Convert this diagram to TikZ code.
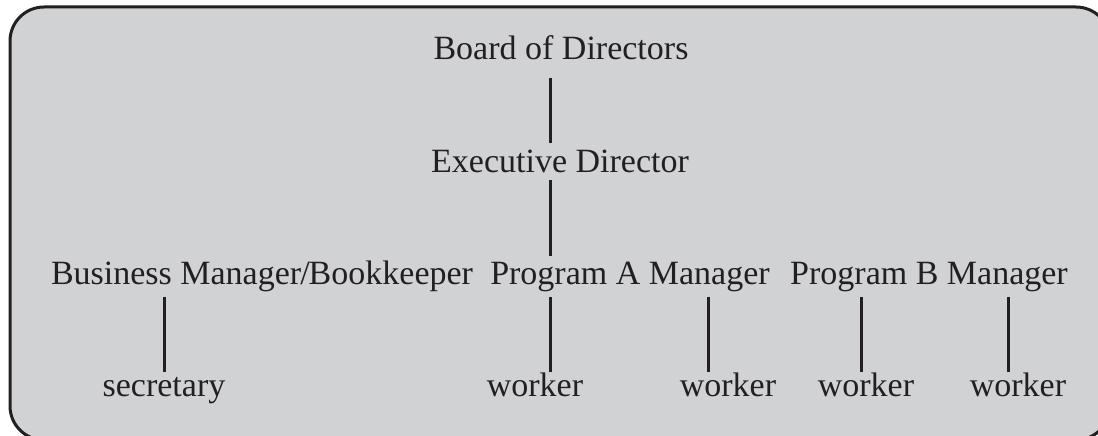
\documentclass[tikz,border=0pt]{standalone}
\usepackage{fontspec}
\setmainfont{Liberation Serif}
\definecolor{panel}{RGB}{209,210,212}
\definecolor{ink}{RGB}{35,31,32}
\begin{document}
\begin{tikzpicture}[x=1pt,y=-1pt,
  lbl/.style={font=\fontsize{34}{40}\selectfont, text=ink, inner sep=0pt,
              text height=21pt, text depth=0pt, anchor=south},
  link/.style={draw=ink, line width=3pt}]
\useasboundingbox (0,0) rectangle (1098,436);
% panel
\draw[draw=ink, line width=3pt, fill=panel, rounded corners=34pt]
  (10,7) rectangle (1110,440);
% titles
\node[lbl] (bod) at (561,60)  {Board of Directors};
\node[lbl] (ed)  at (560,173) {Executive Director};
\node[lbl] (bm)  at (262,285) {Business Manager\kern-1pt/\kern-1pt Bookkeeper};
\node[lbl] (pa)  at (630,285) {Program A Manager};
\node[lbl] (pb)  at (929,285) {Program B Manager};
\node[lbl] (sec) at (164,397) {secretary};
\node[lbl] (wa1) at (535,397) {worker};
\node[lbl] (wa2) at (728,397) {worker};
\node[lbl] (wb1) at (866,397) {worker};
\node[lbl] (wb2) at (1018,397) {worker};
% columns of the connectors
\coordinate (spine) at (550,0);
\coordinate (ca2) at (708,0);
\coordinate (cb1) at (861,0);
\coordinate (cb2) at (1008,0);
% connectors
\draw[link] ([yshift=-18pt]bod.south -| spine) -- ([yshift=9pt]ed.north -| spine);
\draw[link] ([yshift=-7pt]ed.south -| spine) -- ([yshift=8pt]pa.north -| spine);
\draw[link] ([yshift=-12pt]bm.south -| sec.north) -- ([yshift=4pt]sec.north);
\draw[link] ([yshift=-12pt]pa.south -| spine) -- ([yshift=4pt]wa1.north -| spine);
\draw[link] ([yshift=-12pt]pa.south -| ca2) -- ([yshift=4pt]wa2.north -| ca2);
\draw[link] ([yshift=-12pt]pb.south -| cb1) -- ([yshift=4pt]wb1.north -| cb1);
\draw[link] ([yshift=-12pt]pb.south -| cb2) -- ([yshift=4pt]wb2.north -| cb2);
\end{tikzpicture}
\end{document}
